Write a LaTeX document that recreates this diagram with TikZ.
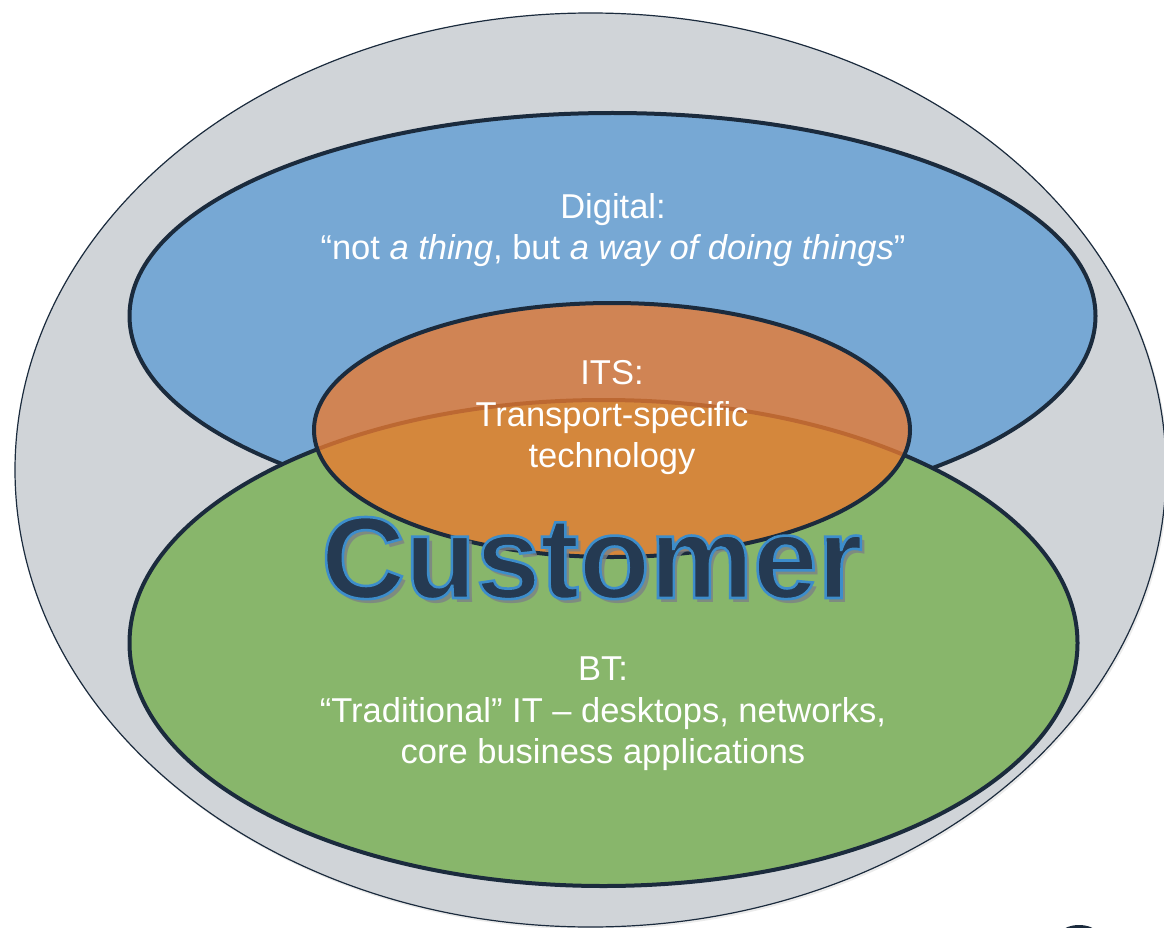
\documentclass[tikz,border=0pt]{standalone}
\usepackage{fontspec}
\setmainfont{Liberation Sans}
\usetikzlibrary{shapes.geometric}
\definecolor{outergray}{HTML}{D0D4D8}
\definecolor{navy}{HTML}{1B2B3D}
\definecolor{digiblue}{HTML}{77A8D4}
\definecolor{btgreen}{HTML}{88B66B}
\definecolor{itsorange}{HTML}{EA7A30}
\definecolor{custnavy}{HTML}{253A52}
\definecolor{shadowgray}{HTML}{7C8186}
\newcommand{\strokedtext}[1]{\special{pdf:literal direct 2 Tr 2.6 w 0.24 0.553 0.796 RG}#1\special{pdf:literal direct 0 Tr}}
\tikzset{
  blob/.style={ellipse, inner sep=0pt, draw=navy, line width=4pt},
  outerblob/.style={ellipse, inner sep=0pt, draw=navy, line width=1.2pt, fill=outergray},
  lbl/.style={align=center, text=white, inner sep=0pt, font=\fontsize{34.5}{41.5}\selectfont},
  custstyle/.style={inner sep=0pt, anchor=base, font=\fontsize{116}{120}\selectfont\bfseries}
}
\begin{document}
\begin{tikzpicture}[x=1pt,y=-1pt]
\useasboundingbox (0,0) rectangle (1164,928);
\fill[white] (0,0) rectangle (1164,928);
% soft shadow of the outer ellipse
\node[ellipse, inner sep=0pt, fill=black, opacity=0.08, minimum width=1152pt, minimum height=915pt] (worldshadow) at (592,472) {};
\node[outerblob, minimum width=1151pt, minimum height=914pt] (world) at (590.5,470) {};
\node[blob, fill=digiblue, minimum width=966pt, minimum height=406pt] (digital) at (612.5,316) {};
\node[blob, fill=btgreen, minimum width=948pt, minimum height=486pt] (bt) at (603.5,643) {};
\node[blob, fill=itsorange, fill opacity=0.78, minimum width=596pt, minimum height=254pt] (its) at (612,430) {};
% logo fragment at the bottom right
\fill[navy] (1079,952) ellipse [x radius=30, y radius=27];
% texts
\node[lbl] (digitaltxt) at (613,230) {Digital:\\“not \textit{a thing}, but \textit{a way of doing things}”};
\node[lbl] (itstxt) at (612,418) {ITS:\\Transport-specific\\technology};
\node[lbl] (bttxt) at (603,714) {BT:\\“Traditional” IT – desktops, networks,\\core business applications};
\node[custstyle, text=shadowgray, opacity=0.8] (custshadow) at (596,602) {Customer};
\node[custstyle, text=custnavy] (cust) at (592,598) {\strokedtext{Customer}};
\end{tikzpicture}
\end{document}
